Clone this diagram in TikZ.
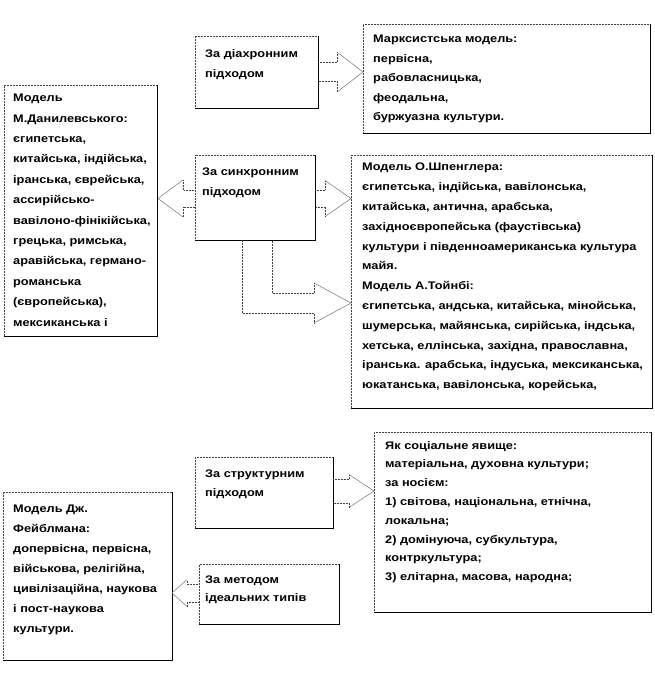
\documentclass[tikz,border=0pt]{standalone}
\usepackage{fontspec}
\setmainfont{Liberation Sans}
\newfontfamily\boxfont[FakeStretch=1.16]{Liberation Sans}
\usetikzlibrary{calc,positioning}
\tikzset{
  %% frames: dotted rule top/left, solid rule right/bottom (see loop below)
  frame/.style={draw=black!75, densely dotted, line width=0.5pt,
    inner sep=0pt, outer sep=0pt, anchor=north west},
  frameedge/.style={draw=black, solid, line width=0.6pt},
  %% box text; argument is the line pitch of that box. The strut fixes
  %% the first baseline 9pt below the node's top.
  btext/.style={anchor=north west, inner sep=0pt, align=left,
    font=\boxfont\bfseries\fontsize{11}{#1}\selectfont,
    execute at begin node=\rule{0pt}{9pt}},
  arrshaft/.style={draw=black!75, densely dotted, line width=0.5pt},
  arrhead/.style={draw=black!55, line width=0.5pt},
}
%% block arrow out of a box side: #1 box side, #2 tip, #3 shaft half,
%% #4 head half, #5 head length (negative points left)
\newcommand{\blockarrow}[5]{%
  \draw[arrshaft] ($(#1 |- #2)+(0,{-(#3)})$) -- ($(#2)+({-(#5)},{-(#3)})$)
    -- ($(#2)+({-(#5)},{-(#4)})$);
  \draw[arrhead] ($(#2)+({-(#5)},{-(#4)})$) -- (#2) -- ($(#2)+({-(#5)},#4)$);
  \draw[arrshaft] ($(#2)+({-(#5)},#4)$) -- ($(#2)+({-(#5)},#3)$)
    -- ($(#1 |- #2)+(0,#3)$);
}

\begin{document}
\begin{tikzpicture}[x=1pt,y=-1pt]
\useasboundingbox (0,0) rectangle (654,684);

%% --- frames --------------------------------------------------------
\node[frame, minimum width=123pt, minimum height=72pt]  (dia)  at (195,36)  {};
\node[frame, minimum width=287pt, minimum height=109pt] (marx) at (363,24)  {};
\node[frame, minimum width=153pt, minimum height=251pt] (dan)  at (4,85)    {};
\node[frame, minimum width=120pt, minimum height=85pt]  (syn)  at (195,155) {};
\node[frame, minimum width=301pt, minimum height=253pt] (spg)  at (351,155) {};
\node[frame, minimum width=138pt, minimum height=71pt]  (str)  at (195,457) {};
\node[frame, minimum width=277pt, minimum height=180pt] (yak)  at (374,432) {};
\node[frame, minimum width=169pt, minimum height=168pt] (fei)  at (3,492)   {};
\node[frame, minimum width=140pt, minimum height=60pt]  (met)  at (199,564) {};

\foreach \n in {dia,marx,dan,syn,spg,str,yak,fei,met}
  \draw[frameedge] (\n.north east) -- (\n.south east) -- (\n.south west);

%% --- texts (offset = first baseline - 9pt) -------------------------
\node[btext=20] (diaT) at ($(dia.north west)+(10,13)$)
  {За діахронним\\підходом};
\node[btext=19.5] (marxT) at ($(marx.north west)+(10,11)$)
  {Марксистська модель:\\первісна,\\рабовласницька,\\феодальна,\\буржуазна культури.};
\node[btext=20.4] (danT) at ($(dan.north west)+(9,9)$)
  {Модель\\М.Данилевського:\\єгипетська,\\китайська, індійська,\\іранська, єврейська,\\ассирійсько-\\вавілоно-фінікійська,\\грецька, римська,\\аравійська, германо-\\романська\\(європейська),\\мексиканська і};
\node[btext=20] (synT) at ($(syn.north west)+(7,13)$)
  {За синхронним\\підходом};
\node[btext=19.8] (spgT) at ($(spg.north west)+(11,8)$)
  {Модель О.Шпенглера:\\єгипетська, індійська, вавілонська,\\китайська, антична, арабська,\\західноєвропейська (фаустівська)\\культури і південноамериканська культура\\майя.\\Модель А.Тойнбі:\\єгипетська, андська, китайська, мінойська,\\шумерська, майянська, сирійська, індська,\\хетська, еллінська, західна, православна,\\іранська. арабська, індуська, мексиканська,\\юкатанська, вавілонська, корейська,};
\node[btext=19] (strT) at ($(str.north west)+(10,13)$)
  {За структурним\\підходом};
\node[btext=18.8] (yakT) at ($(yak.north west)+(11,9)$)
  {Як соціальне явище:\\матеріальна, духовна культури;\\за носієм:\\1) світова, національна, етнічна,\\локальна;\\2) домінуюча, субкультура,\\контркультура;\\3) елітарна, масова, народна;};
\node[btext=20] (feiT) at ($(fei.north west)+(10,13)$)
  {Модель Дж.\\Фейблмана:\\допервісна, первісна,\\військова, релігійна,\\цивілізаційна, наукова\\і пост-наукова\\культури.};
\node[btext=18] (metT) at ($(met.north west)+(6,12)$)
  {За методом\\ідеальних типів};

%% --- block arrows --------------------------------------------------
\coordinate (t1) at ($(marx.north west)+(0,48)$);
\coordinate (t2) at ($(dan.north east)+(1,113.5)$);
\coordinate (t3) at ($(spg.north west)+(0,43.5)$);
\coordinate (t4) at ($(spg.north west)+(0,148)$);
\coordinate (t5) at ($(yak.north west)+(0,59)$);
\coordinate (t6) at ($(fei.north east)+(0,101)$);

\blockarrow{dia.east}{t1}{9.5}{20}{26}
\blockarrow{syn.west}{t2}{8.5}{18.5}{-25}
\blockarrow{syn.east}{t3}{8.5}{18}{26}
\blockarrow{str.east}{t5}{12}{16.5}{25}
\blockarrow{met.west}{t6}{9}{13.5}{-15}

%% bent arrow from the foot of the synchronic box
\coordinate (b1) at ($(syn.south)+(-13,0)$);
\coordinate (b2) at ($(syn.south)+(17,0)$);
\coordinate (h1) at ($(t4)+(-37,10)$);
\coordinate (h2) at ($(t4)+(-37,20)$);
\coordinate (h3) at ($(t4)+(-37,-20)$);
\coordinate (h4) at ($(t4)+(-37,-10)$);
\draw[arrshaft] (b1) -- (b1 |- h1) -- (h1) -- (h2);
\draw[arrhead] (h2) -- (t4) -- (h3);
\draw[arrshaft] (h3) -- (h4) -- (b2 |- h4) -- (b2);

\end{tikzpicture}
\end{document}
